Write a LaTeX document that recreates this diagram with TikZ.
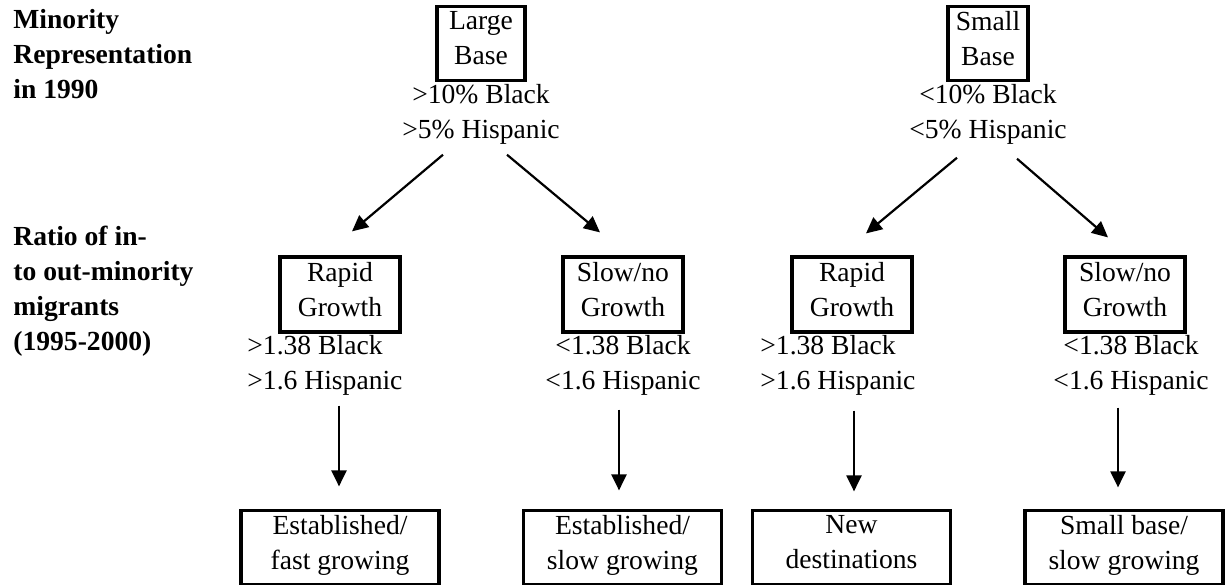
\documentclass[tikz,border=0pt]{standalone}
\usepackage{fontspec}
\setmainfont{Liberation Serif}
\usetikzlibrary{calc,arrows.meta}
\tikzset{
  txt/.style={inner sep=0pt, align=center, font=\fontsize{13.8}{17.5}\selectfont,
    execute at begin node=\strut, execute at end node=\strut},
  box/.style={txt, draw, line width=1.6pt, minimum height=37pt},
  lbl/.style={txt, align=left, font=\fontsize{13.8}{17.5}\selectfont\bfseries},
  arr/.style={line width=1.1pt, -{Triangle[length=8pt,width=7.5pt]}}
}

\begin{document}
\begin{tikzpicture}[x=0.5pt, y=-0.5pt]
  \useasboundingbox (0,0) rectangle (1230,584);
  \clip (0,0) rectangle (1230,584);
  % row labels
  \node[lbl, anchor=north west] (rep) at (13,8.5) {Minority\\Representation\\in 1990};
  \node[lbl, anchor=north west] (ratio) at (13,225.5) {Ratio of in-\\to out-minority\\migrants\\(1995-2000)};
  % 1990 base
  \node[box, minimum width=44pt] (lb) at (481,43.5) {Large\\Base};
  \node[txt] (lbt) at (481,116.5) {>10\% Black\\>5\% Hispanic};
  \node[box, minimum width=40pt] (sb) at (988,43.5) {Small\\Base};
  \node[txt] (sbt) at (988,116.5) {<10\% Black\\<5\% Hispanic};
  % growth
  \node[box, minimum width=60pt, minimum height=37.5pt] (rg1) at (340,294.5) {Rapid\\Growth};
  \node[box, minimum width=60pt, minimum height=37.5pt] (sg1) at (623,294.5) {Slow/no\\Growth};
  \node[box, minimum width=60pt, minimum height=37.5pt] (rg2) at (852,294.5) {Rapid\\Growth};
  \node[box, minimum width=60pt, minimum height=37.5pt] (sg2) at (1125,294.5) {Slow/no\\Growth};
  \node[txt, align=left, anchor=west] (gt1) at (247,367.5) {>1.38 Black\\>1.6 Hispanic};
  \node[txt] (lt1) at (623,367.5) {<1.38 Black\\<1.6 Hispanic};
  \node[txt, align=left, anchor=west] (gt2) at (760,367.5) {>1.38 Black\\>1.6 Hispanic};
  \node[txt] (lt2) at (1131,367.5) {<1.38 Black\\<1.6 Hispanic};
  % types
  \node[box, minimum width=99pt] (ef) at (340,547.5) {Established/\\fast growing};
  \node[box, minimum width=99pt] (es) at (622.5,547.5) {Established/\\slow growing};
  \node[box, minimum width=99pt] (nd) at (851.5,547.5) {New\\destinations};
  \node[box, minimum width=99pt] (ss) at (1124,547.5) {Small base/\\slow growing};
  % arrows
  \draw[arr] ($(lbt.south)+(-38,5.5)$) -- ($(rg1.north)+(12,-24)$);
  \draw[arr] ($(lbt.south)+(26,5.5)$) -- ($(sg1.north)+(-23,-23)$);
  \draw[arr] ($(sbt.south)+(-31,8.5)$) -- ($(rg2.north)+(14,-22)$);
  \draw[arr] ($(sbt.south)+(29,9.5)$) -- ($(sg2.north)+(-17,-18)$);
  \draw[arr] ($(ef.north |- gt1.south)+(-1,5.5)$) -- ($(ef.north)+(-1,-22.5)$);
  \draw[arr] ($(es.north |- lt1.south)+(-3.5,9.5)$) -- ($(es.north)+(-3.5,-18.5)$);
  \draw[arr] ($(nd.north |- gt2.south)+(2.5,10.5)$) -- ($(nd.north)+(2.5,-17.5)$);
  \draw[arr] ($(ss.north |- lt2.south)+(-6,7.5)$) -- ($(ss.north)+(-6,-21.5)$);
\end{tikzpicture}
\end{document}
